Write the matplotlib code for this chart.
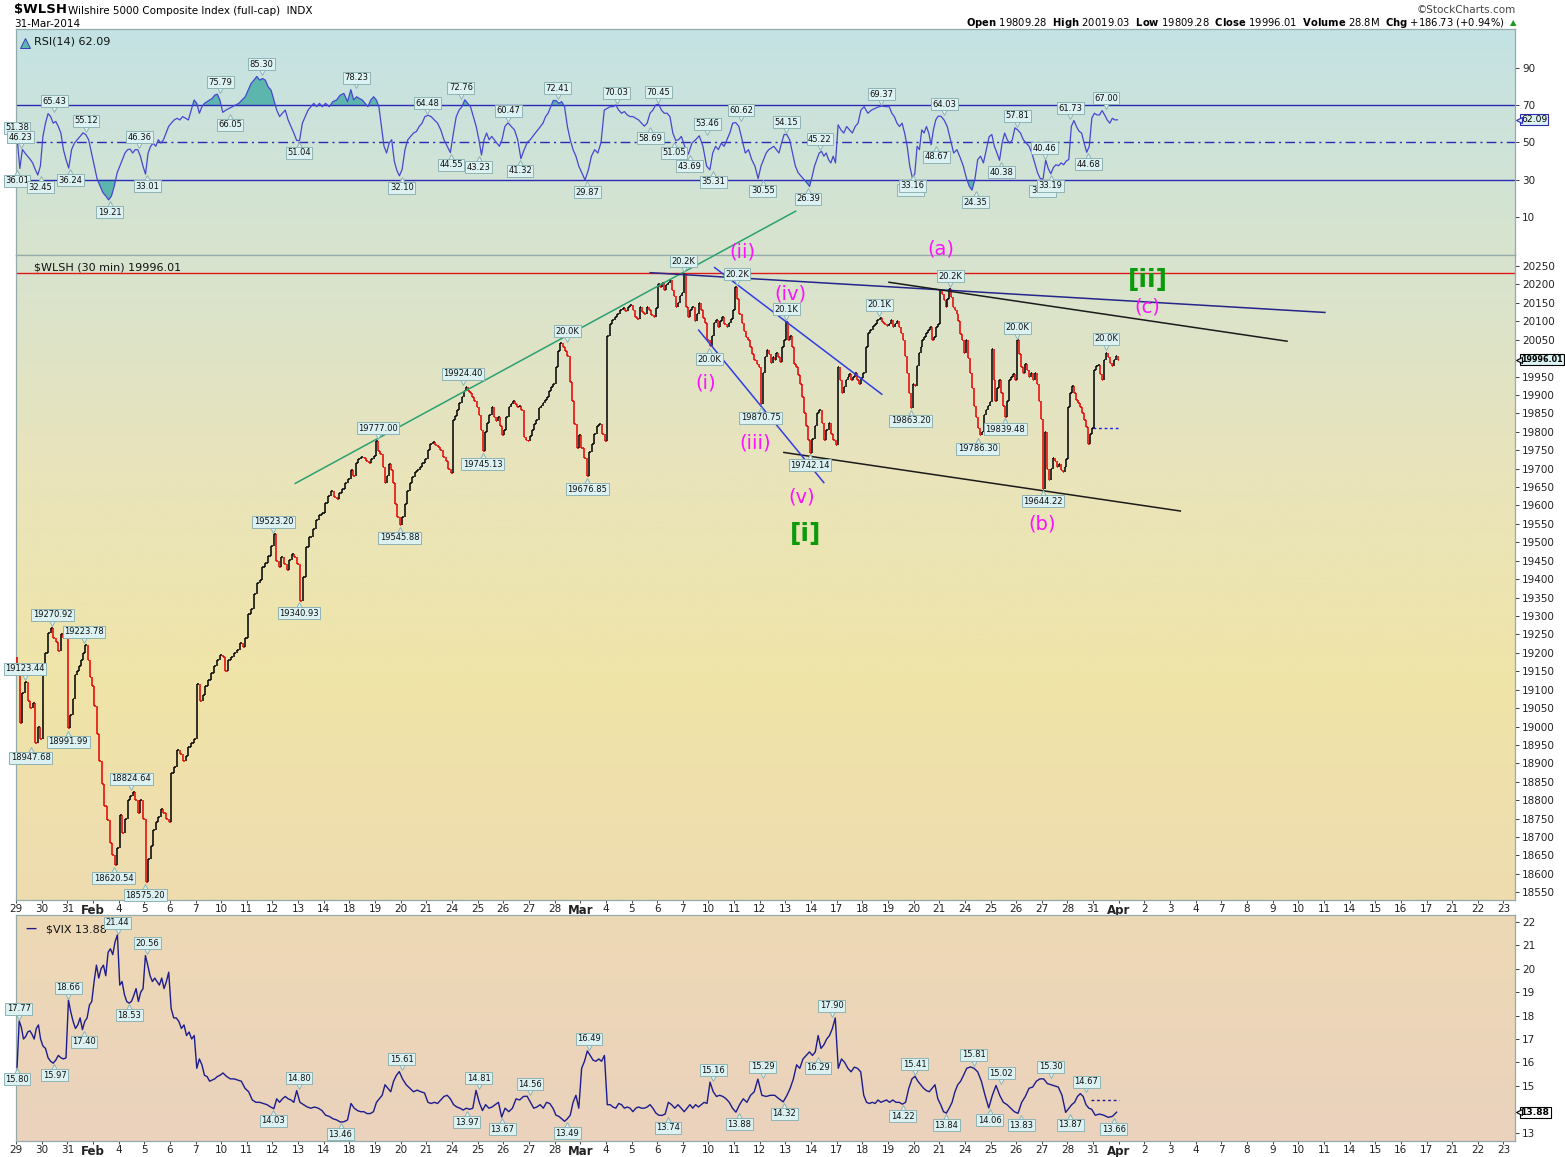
import matplotlib
matplotlib.use('Agg')
import matplotlib.pyplot as plt
import numpy as np
from matplotlib.colors import LinearSegmentedColormap
from matplotlib.collections import LineCollection
from matplotlib.transforms import offset_copy, blended_transform_factory

# trading-day axis labels, Jan 29 .. Apr 23 (data ends Mar 31)
date_labels = ['29', '30', '31', 'Feb', '4', '5', '6', '7', '10', '11', '12', '13', '14',
               '18', '19', '20', '21', '24', '25', '26', '27', '28', 'Mar', '4', '5', '6',
               '7', '10', '11', '12', '13', '14', '17', '18', '19', '20', '21', '24', '25',
               '26', '27', '28', '31', 'Apr', '2', '3', '4', '7', '8', '9', '10', '11', '14',
               '15', '16', '17', '21', '22', '23']

# $WLSH 30 min closes, one list per session
wlsh_open = 19190
wlsh = [
    [19150, 19010, 19090, 19120, 19070, 19050, 19065, 18955, 19000, 18965],   # Jan 29
    [19145, 19200, 19255, 19268, 19240, 19230, 19205, 19250, 19240, 19250],   # Jan 30
    [18995, 19030, 19075, 19140, 19150, 19165, 19180, 19200, 19222, 19180, 19135, 19110],
    [19055, 18980, 18905, 18845, 18785, 18745, 18685, 18650, 18625, 18670],   # Feb 3
    [18760, 18710, 18750, 18800, 18810, 18822, 18800, 18765, 18800, 18750],
    [18578, 18640, 18675, 18720, 18740, 18755, 18775, 18765, 18750, 18740],
    [18875, 18890, 18935, 18925, 18905, 18920, 18945, 18955, 18965],
    [19115, 19070, 19085, 19110, 19125, 19145, 19165, 19180, 19195],
    [19190, 19150, 19180, 19190, 19200, 19208, 19226, 19215, 19240],          # Feb 10
    [19305, 19318, 19360, 19390, 19398, 19432, 19445, 19462, 19490],
    [19522, 19450, 19432, 19460, 19442, 19425, 19452, 19468, 19460, 19442],
    [19342, 19405, 19488, 19515, 19535, 19560, 19575, 19580],
    [19606, 19625, 19640, 19622, 19618, 19635, 19645, 19662, 19672],
    [19695, 19680, 19715, 19725, 19732, 19728, 19722, 19715, 19725, 19735],   # Feb 18
    [19775, 19748, 19740, 19705, 19660, 19680, 19712, 19695, 19660, 19605, 19570, 19548],
    [19570, 19605, 19640, 19660, 19678, 19690, 19696, 19705, 19715, 19725],
    [19750, 19768, 19773, 19765, 19758, 19750, 19732, 19722, 19698, 19688],
    [19832, 19842, 19860, 19878, 19895, 19912, 19922, 19912, 19905, 19895, 19885, 19868],  # Feb 24
    [19845, 19805, 19748, 19800, 19825, 19845, 19868, 19840, 19830, 19840, 19815, 19790],
    [19805, 19840, 19868, 19876, 19885, 19876, 19868, 19870, 19860, 19787, 19778, 19774],
    [19788, 19805, 19822, 19832, 19866, 19870, 19878, 19886, 19895, 19912, 19922, 19930],
    [19975, 20020, 20040, 20030, 20020, 20005, 19935, 19885, 19820, 19755, 19790],
    [19755, 19730, 19680, 19745, 19768, 19795, 19815, 19822, 19795, 19775],   # Mar 3
    [20060, 20092, 20103, 20112, 20120, 20130, 20135, 20128, 20140, 20145],
    [20130, 20112, 20105, 20140, 20126, 20120, 20140, 20131, 20117, 20112, 20135],
    [20200, 20192, 20205, 20185, 20198, 20205, 20212, 20185, 20168, 20140, 20150, 20168, 20176],
    [20228, 20140, 20112, 20130, 20140, 20100, 20120, 20150, 20130, 20110, 20095, 20050],
    [20032, 20060, 20095, 20103, 20085, 20102, 20112, 20094, 20085, 20095, 20105, 20130],  # Mar 10
    [20192, 20160, 20120, 20095, 20075, 20058, 20048, 20030, 20012, 19995, 19985, 19975],
    [19875, 19960, 20004, 20022, 20012, 19986, 20004, 19995, 20013, 20004, 19990, 20030, 20050],
    [20098, 20050, 20060, 20030, 19985, 19975, 19955, 19930, 19895, 19850, 19815, 19778, 19742],
    [19780, 19815, 19850, 19858, 19825, 19778, 19805, 19823, 19795, 19778, 19765],
    [19975, 19940, 19905, 19922, 19940, 19950, 19958, 19940, 19950, 19960, 19942, 19930, 19945],  # Mar 17
    [19960, 20030, 20067, 20076, 20086, 20094, 20103, 20110, 20098, 20094, 20086],
    [20094, 20103, 20085, 20094, 20100, 20085, 20067, 20050, 20005, 19960, 19905, 19865, 19930],
    [19925, 19980, 20015, 20030, 20050, 20058, 20068, 20076, 20085, 20050, 20058, 20085, 20094],
    [20185, 20175, 20158, 20140, 20160, 20188, 20165, 20140, 20130, 20120, 20100, 20065, 20048, 20015],
    [20050, 20000, 19960, 19920, 19870, 19840, 19810, 19790, 19800, 19845, 19860, 19870, 19880],  # Mar 24
    [20025, 19940, 19885, 19920, 19940, 19905, 19870, 19840, 19885, 19940, 19950, 19958, 19942],
    [20048, 20010, 19975, 19960, 19985, 19968, 19950, 19960, 19940, 19960, 19930, 19885, 19835],
    [19646, 19800, 19700, 19668, 19700, 19730, 19722, 19705, 19712, 19696, 19690, 19705, 19725],
    [19868, 19905, 19925, 19905, 19886, 19877, 19868, 19850, 19832, 19812, 19768, 19795, 19809],
    [19968, 19978, 19982, 19958, 19940, 19995, 20015, 20004, 19986, 19978, 19996, 20005, 19996],  # Mar 31
]

rsi = [
    [51.4, 36.0, 46.2, 44.3, 42.6, 41.0, 39.0, 35.5, 32.5, 37.3],
    [53.2, 60.3, 65.4, 63.8, 60.3, 61.2, 58.5, 55.0, 46.1, 40.8],
    [36.2, 46.1, 49.6, 51.4, 53.2, 55.1, 54.1, 51.4, 44.3],
    [37.3, 30.2, 26.6, 23.1, 21.3, 19.2, 21.3, 26.6, 33.7],
    [37.3, 40.8, 44.3, 46.1, 46.4, 44.3, 46.1, 46.0, 42.6, 37.3],
    [33.0, 44.3, 47.9, 49.6, 47.9, 51.4, 49.6, 51.4, 55.0, 58.5],
    [60.3, 62.0, 62.9, 62.0, 63.8, 62.9, 62.0, 67.3, 72.7],
    [70.9, 65.6, 69.1, 70.9, 71.8, 72.7, 73.5, 75.3, 75.8, 72.7],
    [66.1, 67.3, 68.2, 69.1, 70.0, 70.9, 72.7, 74.4],
    [78.0, 81.5, 83.3, 85.3, 83.3, 84.2, 83.3, 79.7, 78.0],
    [72.7, 67.3, 63.8, 65.6, 67.3, 62.0, 58.5, 55.0, 51.0],
    [51.0, 60.3, 63.8, 67.3, 69.1, 70.9, 69.1, 70.9, 69.1],
    [70.9, 69.1, 71.8, 72.7, 75.3, 76.2, 71.8],
    [78.2, 72.7, 74.4, 73.5, 72.7, 70.9, 69.1, 72.7, 74.4],
    [72.7, 69.1, 58.5, 47.9, 44.3, 49.6, 51.4, 40.0, 35.0, 32.1],
    [35.5, 46.1, 51.4, 53.2, 55.0, 55.8, 58.5, 60.3, 63.8],
    [64.5, 63.8, 62.0, 60.3, 56.7, 51.4, 47.9, 44.5],
    [55.0, 63.8, 67.3, 69.1, 72.8, 70.9, 69.1, 63.8, 58.5],
    [51.4, 43.2, 51.4, 55.0, 51.4, 53.2, 51.4, 49.6, 47.9, 51.4],
    [58.5, 60.5, 58.5, 56.7, 51.4, 41.3, 46.0, 50.0],
    [51.4, 53.2, 55.0, 56.7, 58.5, 60.3, 63.8, 65.6, 69.1, 72.4],
    [72.4, 70.9, 71.8, 69.1, 58.5, 51.4, 46.1, 42.6, 37.3],
    [33.7, 29.9, 35.0, 42.6, 46.1, 44.3, 50.0, 67.3],
    [68.2, 69.1, 69.1, 70.0, 67.3, 65.6, 66.5, 64.7, 63.8],
    [63.8, 62.9, 62.0, 60.3, 58.7, 60.3, 65.6, 67.3, 70.0],
    [70.5, 67.3, 65.6, 65.6, 63.8, 55.0, 51.1, 51.4, 53.2],
    [47.9, 43.7, 49.6, 51.4, 53.5, 47.9, 37.3],
    [35.3, 44.3, 47.9, 46.1, 49.6, 47.9, 51.4, 55.0, 60.3],
    [60.6, 58.5, 51.4, 44.3, 46.1, 40.8, 37.3, 30.6],
    [37.3, 40.8, 44.3, 46.1, 47.0, 47.9, 46.1, 44.3, 49.6, 54.2],
    [54.2, 51.4, 44.3, 37.3, 33.7, 31.9, 30.2, 28.4, 26.4],
    [31.9, 37.3, 40.8, 44.3, 45.2, 42.6, 44.3, 40.8, 39.0, 42.6, 39.0],
    [59.4, 56.7, 55.0, 58.5, 56.7, 55.0, 58.5, 60.3, 67.3],
    [69.1, 65.6, 67.3, 68.2, 69.1, 69.4, 69.1],
    [69.1, 65.6, 63.8, 60.3, 58.5, 60.3, 55.0, 47.9, 37.3, 31.1],
    [33.2, 47.9, 46.1, 56.7, 55.0, 58.5, 55.0, 48.7, 56.7, 62.0, 64.0],
    [64.0, 62.0, 58.5, 51.4, 44.3, 46.1, 42.0, 37.3],
    [31.0, 26.6, 24.4, 30.2, 40.8, 42.6, 39.0, 46.1, 53.0],
    [54.2, 47.9, 44.3, 40.4, 49.6, 55.0, 51.4, 49.6, 51.4, 57.8],
    [56.7, 55.0, 51.4, 49.6, 48.0, 44.3, 39.0, 33.7, 30.5],
    [30.5, 40.5, 36.0, 33.2, 36.5, 38.0, 37.5, 39.0, 38.0, 40.0],
    [40.8, 58.5, 61.7, 58.5, 56.0, 55.0, 49.6, 44.7, 47.9, 63.0],
    [65.6, 64.7, 64.7, 67.0, 64.7, 62.0, 60.3, 62.9, 62.0, 62.09],
]

vix = [
    [15.8, 17.77, 17.5, 17.0, 17.1, 17.3, 17.35, 17.2, 17.0, 17.45, 17.6, 17.0],
    [16.7, 16.6, 16.2, 16.05, 15.97, 16.1, 16.3, 16.2, 16.15, 16.2],
    [18.66, 18.15, 17.75, 17.45, 17.6, 17.9, 17.4, 17.75, 17.9, 18.45, 18.6],
    [19.45, 20.15, 19.6, 20.0, 20.15, 19.7, 20.7, 20.85, 20.6, 21.15, 21.44],
    [19.3, 19.45, 18.9, 18.6, 18.53, 18.6, 18.85, 19.15, 18.6, 19.0, 19.15],
    [20.56, 20.15, 19.7, 19.45, 19.6, 19.45, 19.3, 19.6, 19.15, 19.45, 19.85],
    [18.3, 17.9, 17.9, 17.75, 17.45, 17.6, 17.15, 17.3, 17.0, 17.15],
    [15.75, 16.15, 15.9, 15.45, 15.4, 15.2, 15.25, 15.3, 15.4, 15.45],
    [15.55, 15.4, 15.3, 15.3, 15.25, 15.2, 14.9],
    [14.75, 14.4, 14.3, 14.3, 14.25, 14.2, 14.1],
    [14.03, 14.45, 14.3, 14.45, 14.55, 14.45, 14.4, 14.3, 14.8],
    [14.3, 14.2, 14.1, 14.05, 14.1, 14.05, 13.95],
    [13.75, 13.7, 13.6, 13.55, 13.46, 13.47, 13.55],
    [14.25, 14.05, 13.95, 13.9, 13.9, 13.82, 13.82, 13.9],
    [14.3, 14.45, 14.6, 15.05, 14.9, 14.75, 15.2, 15.45, 15.61],
    [15.3, 15.05, 14.9, 14.75, 14.82, 14.75, 14.7],
    [14.3, 14.25, 14.3, 14.25, 14.4, 14.55, 14.6, 14.45],
    [14.2, 14.1, 14.05, 13.97, 14.05, 14.0, 14.05, 14.81],
    [14.3, 13.95, 14.2, 14.05, 14.1, 14.2, 14.3, 13.67],
    [14.05, 13.9, 14.05, 14.45, 14.4, 14.55, 14.56],
    [14.3, 14.05, 14.1, 14.2, 14.05, 14.3, 14.25, 14.05],
    [13.75, 13.7, 13.6, 13.49, 13.6, 13.75, 14.3, 14.6, 14.05],
    [15.75, 16.05, 16.49, 16.3, 16.1, 16.05, 16.15, 16.05, 16.3],
    [14.2, 14.2, 14.1, 14.05, 14.25, 14.2, 14.05, 14.1, 14.05],
    [13.9, 14.05, 14.1, 14.05, 14.05, 14.1, 14.2, 14.05, 13.85],
    [13.75, 13.74, 13.8, 14.3, 14.2, 14.05, 14.2, 14.05],
    [13.9, 14.05, 14.2, 14.05, 14.2, 14.1, 14.2, 14.3, 14.25],
    [15.16, 14.75, 14.55, 14.6, 14.55, 14.45, 14.3, 14.05],
    [13.88, 14.2, 14.45, 14.3, 14.6, 14.75, 15.29],
    [14.6, 14.55, 14.6, 14.6, 14.45, 14.32],
    [14.6, 14.9, 15.3, 15.9, 15.75, 16.15, 16.3, 16.45],
    [16.3, 16.45, 17.15, 16.6, 16.75, 17.0, 17.15, 17.45, 17.9],
    [15.75, 16.15, 16.0, 15.75, 15.6, 15.8, 15.75, 15.6],
    [14.6, 14.3, 14.25, 14.3, 14.25, 14.4, 14.3, 14.35, 14.4],
    [14.3, 14.4, 14.3, 14.3, 14.22, 14.3, 14.9, 15.3],
    [15.41, 15.2, 15.05, 14.9, 14.8, 14.75, 14.9, 15.05, 14.45],
    [14.2, 13.9, 13.84, 14.05, 14.3, 14.75, 15.05, 15.2, 15.45],
    [15.75, 15.81, 15.75, 15.6, 15.2, 14.6, 14.06],
    [14.6, 15.02, 14.6, 14.3, 14.2, 14.05, 13.9],
    [13.83, 14.3, 14.55, 14.9, 14.95, 15.2, 15.3],
    [15.3, 15.1, 15.05, 15.0, 14.95, 14.6, 13.87],
    [14.05, 14.2, 14.3, 14.55, 14.67, 14.55, 14.2, 14.05, 14.0],
    [13.75, 13.8, 13.75, 13.66, 13.7, 13.88],
]

# labelled highs/lows: (session, 30-min bar, value, text, above?)
price_tags = [
    (0, 4, 19123.44, '19123.44', True), (0, 7, 18947.68, '18947.68', False),
    (1, 5, 19270.92, '19270.92', True), (2, 0, 18991.99, '18991.99', False),
    (2, 8, 19223.78, '19223.78', True), (3, 10, 18620.54, '18620.54', False),
    (4, 6, 18824.64, '18824.64', True), (5, 0, 18575.20, '18575.20', False),
    (10, 0, 19523.20, '19523.20', True), (11, 0, 19340.93, '19340.93', False),
    (14, 1, 19777.00, '19777.00', True), (14, 12, 19545.88, '19545.88', False),
    (17, 5, 19924.40, '19924.40', True), (18, 2, 19745.13, '19745.13', False),
    (21, 6, 20040, '20.0K', True), (22, 3, 19676.85, '19676.85', False),
    (26, 0, 20230, '20.2K', True), (27, 0, 20030, '20.0K', False),
    (28, 1, 20195, '20.2K', True), (29, 0, 19870.75, '19870.75', False),
    (30, 0, 20100, '20.1K', True), (30, 12, 19742.14, '19742.14', False),
    (33, 8, 20112, '20.1K', True), (34, 11, 19863.20, '19863.20', False),
    (36, 5, 20190, '20.2K', True), (37, 6, 19786.30, '19786.30', False),
    (38, 7, 19839.48, '19839.48', False), (39, 0, 20050, '20.0K', True),
    (40, 0, 19644.22, '19644.22', False), (42, 6, 20019.03, '20.0K', True),
]

rsi_tags = [
    (0, 0, 51.38, '51.38', True), (0, 2, 46.23, '46.23', True), (0, 0, 36.01, '36.01', False),
    (0, 12, 32.45, '32.45', False), (1, 6, 65.43, '65.43', True), (2, 1, 36.24, '36.24', False),
    (2, 9, 55.12, '55.12', True), (3, 8, 19.21, '19.21', False), (4, 10, 46.36, '46.36', True),
    (5, 1, 33.01, '33.01', False), (7, 12, 75.79, '75.79', True), (8, 4, 66.05, '66.05', False),
    (9, 7, 85.30, '85.30', True), (11, 0, 51.04, '51.04', False), (13, 3, 78.23, '78.23', True),
    (15, 0, 32.10, '32.10', False), (16, 0, 64.48, '64.48', True), (16, 12, 44.55, '44.55', False),
    (17, 4, 72.76, '72.76', True), (18, 0, 43.23, '43.23', False), (19, 2, 60.47, '60.47', True),
    (19, 8, 41.32, '41.32', False), (21, 1, 72.41, '72.41', True), (22, 3, 29.87, '29.87', False),
    (23, 5, 70.03, '70.03', True), (24, 9, 58.69, '58.69', False), (25, 0, 70.45, '70.45', True),
    (25, 8, 51.05, '51.05', False), (26, 3, 43.69, '43.69', False), (26, 12, 53.46, '53.46', True),
    (27, 2, 35.31, '35.31', False), (28, 3, 60.62, '60.62', True), (29, 1, 30.55, '30.55', False),
    (30, 0, 54.15, '54.15', True), (30, 11, 26.39, '26.39', False), (31, 4, 45.22, '45.22', True),
    (33, 9, 69.37, '69.37', True), (34, 11, 31.14, '31.14', False), (34, 12, 33.16, '33.16', False),
    (35, 11, 48.67, '48.67', False), (36, 2, 64.03, '64.03', True), (37, 5, 24.35, '24.35', False),
    (38, 5, 40.38, '40.38', False), (39, 0, 57.81, '57.81', True), (40, 0, 30.52, '30.52', False),
    (40, 1, 40.46, '40.46', True), (40, 4, 33.19, '33.19', False), (41, 1, 61.73, '61.73', True),
    (41, 10, 44.68, '44.68', False), (42, 6, 67.00, '67.00', True),
]

vix_tags = [
    (0, 1, 17.77, '17.77', True), (0, 0, 15.80, '15.80', False), (1, 6, 15.97, '15.97', False),
    (2, 0, 18.66, '18.66', True), (2, 8, 17.40, '17.40', False), (3, 12, 21.44, '21.44', True),
    (4, 5, 18.53, '18.53', False), (5, 1, 20.56, '20.56', True), (10, 0, 14.03, '14.03', False),
    (11, 0, 14.80, '14.80', True), (12, 8, 13.46, '13.46', False), (15, 0, 15.61, '15.61', True),
    (17, 7, 13.97, '13.97', False), (18, 0, 14.81, '14.81', True), (18, 12, 13.67, '13.67', False),
    (20, 0, 14.56, '14.56', True), (21, 6, 13.49, '13.49', False), (22, 4, 16.49, '16.49', True),
    (25, 5, 13.74, '13.74', False), (27, 2, 15.16, '15.16', True), (28, 2, 13.88, '13.88', False),
    (29, 1, 15.29, '15.29', True), (29, 12, 14.32, '14.32', False), (31, 3, 16.29, '16.29', False),
    (31, 10, 17.90, '17.90', True), (34, 7, 14.22, '14.22', False), (35, 0, 15.41, '15.41', True),
    (36, 3, 13.84, '13.84', False), (37, 4, 15.81, '15.81', True), (37, 12, 14.06, '14.06', False),
    (38, 5, 15.02, '15.02', True), (39, 2, 13.83, '13.83', False), (40, 4, 15.30, '15.30', True),
    (41, 1, 13.87, '13.87', False), (41, 9, 14.67, '14.67', True), (42, 10, 13.66, '13.66', False),
]

# chartist's annotations (session units, price)
trend_lines = [
    (10.89, 19660, 30.40, 20399),
    (24.73, 20232, 51.04, 20124),
    (34.04, 20206, 49.56, 20046),
    (29.94, 19744, 45.40, 19585),
    (27.24, 20246, 33.76, 19902),
    (26.62, 20076, 31.50, 19662),
]
trend_colors = ['#2ba172', '#25258a', '#1a1a1a', '#1a1a1a', '#2f3de6', '#2f3de6']
wave_labels = [('(i)', 26.88, 19932), ('(ii)', 28.33, 20288), ('(iii)', 28.83, 19770),
               ('(iv)', 30.20, 20174), ('(v)', 30.63, 19623), ('(a)', 36.06, 20296),
               ('(b)', 40.00, 19550), ('(c)', 44.10, 20139)]
degree_labels = [('[i]', 30.79, 19522), ('[ii]', 44.15, 20212)]
resistance = 20230
wlsh_prev_close = 19809.28
vix_prev_close = 14.39

# right-axis ticks (the last-value tags stand where 20000 and 14 would be)
price_ticks = [v for v in range(18550, 20251, 50) if v != 20000]
vix_ticks = [13, 15, 16, 17, 18, 19, 20, 21, 22]
rsi_ticks = [10, 30, 50, 70, 90]

W, H = 1565.0, 1157.0
fig = plt.figure(figsize=(W / 100, H / 100), dpi=100)
fig.patch.set_facecolor('white')


def panel(top, bottom):
    return fig.add_axes([16 / W, 1 - bottom / H, (1515 - 16) / W, (bottom - top) / H])


def backdrop(ax, colors):
    cmap = LinearSegmentedColormap.from_list('bg', colors)
    grad = np.linspace(1, 0, 256).reshape(-1, 1)
    ax.imshow(grad, extent=[0, 1, 0, 1], transform=ax.transAxes, cmap=cmap,
              aspect='auto', zorder=0, interpolation='bilinear')


def spread(day_lists):
    xs, ys = [], []
    for d, vals in enumerate(day_lists):
        n = len(vals)
        for k, v in enumerate(vals):
            xs.append(d + (k + 0.5) / n)
            ys.append(v)
    return np.array(xs), np.array(ys)


def tag(ax, day, bar, value, text, up):
    x = day + (bar + 0.5) / 13.0
    sgn = 1 if up else -1
    tri = offset_copy(ax.transData, fig=fig, x=0, y=sgn * 3.0, units='points')
    ax.plot([x], [value], marker='v' if up else '^', ms=5, mfc='#dcf2f2', mec='#8fb3b3',
            mew=0.7, transform=tri, zorder=6, clip_on=False)
    ax.annotate(text, xy=(x, value), xytext=(0, sgn * 5.5), textcoords='offset points',
                ha='center', va='bottom' if up else 'top', fontsize=6, color='#111111',
                bbox=dict(boxstyle='square,pad=0.18', fc='#dcf2f2', ec='#8fb3b3', lw=0.7),
                zorder=7, annotation_clip=False)


def last_value(ax, value, text, face, edge, bold, size):
    tr = offset_copy(blended_transform_factory(ax.transAxes, ax.transData), fig=fig,
                     x=2.6, y=0, units='points')
    ax.plot([1.0], [value], marker='<', ms=5, mfc=face, mec=edge, mew=0.8,
            transform=tr, clip_on=False, zorder=11)
    ax.annotate(text, xy=(1.0, value), xycoords=('axes fraction', 'data'),
                xytext=(4.3, 0), textcoords='offset points', ha='left', va='center',
                fontsize=size, fontweight='bold' if bold else 'normal',
                bbox=dict(boxstyle='square,pad=0.12', fc=face, ec=edge, lw=0.8),
                annotation_clip=False, zorder=10)


ax_rsi = panel(29, 255)
ax_px = panel(255, 900)
ax_vix = panel(915, 1141)

backdrop(ax_rsi, ['#d8e4cd', '#c4e2e4'])
backdrop(ax_px, ['#eedcb0', '#f0e4a8', '#e9e4bb', '#d7e3cf'])
backdrop(ax_vix, ['#ead2bd', '#eed9b6'])

for ax in (ax_rsi, ax_px, ax_vix):
    ax.set_xlim(0, 58.45)
    ax.yaxis.tick_right()
    ax.tick_params(axis='y', labelsize=7.5, length=3, pad=2, colors='#222222', width=0.6)
    for s in ax.spines.values():
        s.set_color('#95abab')
        s.set_linewidth(0.9)
    ax.set_xticks(range(len(date_labels)))
    ax.tick_params(axis='x', length=2, width=0.6, pad=1, labelsize=7.5, colors='#222222')

ax_rsi.tick_params(axis='x', labelbottom=False, length=0)
for ax in (ax_px, ax_vix):
    ax.set_xticklabels(date_labels)
    for t, lab in zip(ax.get_xticklabels(), date_labels):
        if lab.isalpha():
            t.set_fontweight('bold')
            t.set_fontsize(8.5)

# ---- RSI ----
rx, ry = spread(rsi)
ax_rsi.fill_between(rx, ry, 70, where=ry > 70, interpolate=True, color='#5db6ad', zorder=2, lw=0)
ax_rsi.fill_between(rx, ry, 30, where=ry < 30, interpolate=True, color='#5db6ad', zorder=2, lw=0)
ax_rsi.plot(rx, ry, color='#4646d2', lw=0.9, zorder=3)
ax_rsi.axhline(70, color='#2a2ab4', lw=1.0, zorder=2)
ax_rsi.axhline(30, color='#2a2ab4', lw=1.0, zorder=2)
ax_rsi.axhline(50, color='#2a2ab4', lw=1.0, ls=(0, (7, 3, 1.5, 3)), zorder=2)
ax_rsi.set_ylim(-10.3, 110.7)
ax_rsi.set_yticks(rsi_ticks)
for d, b, v, t, up in rsi_tags:
    tag(ax_rsi, d, b, v, t, up)
ax_rsi.text(0.012, 0.965, 'RSI(14) 62.09', transform=ax_rsi.transAxes, fontsize=8,
            va='top', ha='left', color='#111111')
ax_rsi.plot([0.006], [0.94], marker='^', ms=7, color='#5db6ad', mec='#2a2ab4', mew=0.6,
            transform=ax_rsi.transAxes, clip_on=False)
last_value(ax_rsi, ry[-1], '62.09', '#dcf2f2', '#2a2ab4', False, 6.6)

# ---- price ----
px_x, px_c = spread(wlsh)
px_o = np.concatenate([[wlsh_open], px_c[:-1]])
nxt = np.append(px_x[1:], px_x[-1] + 0.05)
segs, cols = [], []
for x, o, c, x2 in zip(px_x, px_o, px_c, nxt):
    col = '#000000' if c >= o else '#e40000'
    segs.append([(x, o), (x, c)])
    segs.append([(x, c), (x2 - 0.02, c)])
    cols += [col, col]
ax_px.add_collection(LineCollection(segs, colors=cols, linewidths=1.1, zorder=3))
ax_px.set_ylim(18529, 20280)
ax_px.set_yticks(price_ticks)
ax_px.axhline(resistance, color='#e01818', lw=1.0, zorder=2)
ax_px.hlines(wlsh_prev_close, 42.0, 43.0, colors='#1d1df0', linestyles=(0, (2, 2)), lw=1.0, zorder=4)
for (x0, y0, x1, y1), col in zip(trend_lines, trend_colors):
    ax_px.plot([x0, x1], [y0, y1], color=col, lw=1.1, zorder=4, clip_on=False)
for d, b, v, t, up in price_tags:
    tag(ax_px, d, b, v, t, up)
for t, x, y in wave_labels:
    ax_px.text(x, y, t, color='#ff10ff', fontsize=14, ha='center', va='center', zorder=8)
for t, x, y in degree_labels:
    ax_px.text(x, y, t, color='#0a9a0a', fontsize=18, ha='center', va='center', zorder=8,
               fontweight='bold')
ax_px.text(0.012, 0.988, '$WLSH (30 min) 19996.01', transform=ax_px.transAxes, fontsize=8,
           va='top', ha='left', color='#111111', zorder=9)
last_value(ax_px, px_c[-1], '19996.01', '#dcf4f4', '#000000', True, 5.8)

# ---- VIX ----
vx, vy = spread(vix)
ax_vix.plot(vx, vy, color='#1c1c8e', lw=1.0, zorder=3)
ax_vix.set_ylim(12.65, 22.29)
ax_vix.set_yticks(vix_ticks)
ax_vix.hlines(vix_prev_close, 41.9, 43.0, colors='#1c1c8e', linestyles=(0, (2, 2)), lw=1.0, zorder=4)
for d, b, v, t, up in vix_tags:
    tag(ax_vix, d, b, v, t, up)
ax_vix.text(0.006, 0.96, '\u2014', transform=ax_vix.transAxes, fontsize=8, va='top',
            ha='left', color='#1c1c8e', fontweight='bold')
ax_vix.text(0.02, 0.96, '$VIX 13.88', transform=ax_vix.transAxes, fontsize=8, va='top',
            ha='left', color='#111111')
last_value(ax_vix, vy[-1], '13.88', '#ffffff', '#000000', True, 6.6)


# ---- header ----
def fx(px):
    return px / W


def fy(py):
    return 1 - py / H


fig.text(fx(14), fy(10), '$WLSH', fontsize=9.5, fontweight='bold', va='center', ha='left')
fig.text(fx(68), fy(11), 'Wilshire 5000 Composite Index (full-cap)  INDX', fontsize=7.5,
         va='center', ha='left')
fig.text(fx(14), fy(24), '31-Mar-2014', fontsize=7.5, va='center', ha='left')
fig.text(fx(1516), fy(10), '\u00a9StockCharts.com', fontsize=7.5, va='center', ha='right',
         color='#444444')
fig.text(fx(1505), fy(23),
         r'$\mathbf{Open}$ 19809.28  $\mathbf{High}$ 20019.03  $\mathbf{Low}$ 19809.28  '
         r'$\mathbf{Close}$ 19996.01  $\mathbf{Volume}$ 28.8M  $\mathbf{Chg}$ +186.73 (+0.94%)',
         fontsize=7.2, va='center', ha='right')
fig.text(fx(1516), fy(23), '\u25b2', fontsize=6, va='center', ha='right', color='#1a9a1a')

fig.savefig('out.png', dpi=100)
